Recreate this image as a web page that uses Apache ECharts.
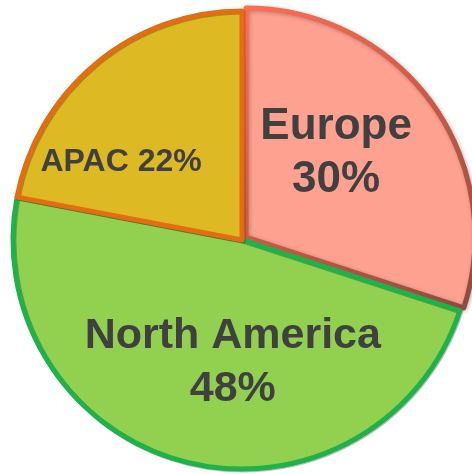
<!DOCTYPE html>
<html>
<head>
<meta charset="utf-8">
<script src="https://cdn.jsdelivr.net/npm/echarts@6/dist/echarts.min.js"></script>
<style>
  html, body { margin: 0; padding: 0; background: #fff; }
  #chart { width: 472px; height: 474px; }
</style>
</head>
<body>
<div id="chart"></div>
<script>
const regions = ['Europe', 'North America', 'APAC'];
const shares = [30, 48, 22];

const fills = ['#FFA191', '#92D050', '#DDB923'];
const borders = [
  new echarts.graphic.LinearGradient(0, 0, 1, 1, [
    { offset: 0, color: '#FF6E52' },
    { offset: 0.5, color: '#C85A46' },
    { offset: 1, color: '#8A4A40' }
  ]),
  '#1FB24A',
  '#E46C12'
];
const labelStyles = [
  { fontSize: 44, formatter: '{b}\n{c}%', lineHeight: 53 },
  { fontSize: 43, formatter: '{b}\n{c}%', lineHeight: 53 },
  { fontSize: 32, formatter: '{b} {c}%', lineHeight: 36 }
];
// nudges of label centres off ECharts' default inside position
const labelShift = [[-5, -15], [20, 9], [-46, 13]];

const chart = echarts.init(document.getElementById('chart'));
chart.setOption({
  backgroundColor: '#fff',
  animation: false,
  series: [{
    type: 'pie',
    center: [242, 240],
    radius: 229,
    startAngle: 90,
    selectedMode: 'single',
    selectedOffset: 5,
    label: {
      show: true,
      position: 'inside',
      color: '#404040',
      fontWeight: 'bold',
      fontFamily: 'Liberation Sans, Arial, sans-serif'
    },
    labelLine: { show: false },
    emphasis: { disabled: true },
    labelLayout: function (p) {
      const s = labelShift[p.dataIndex];
      return { dx: s[0], dy: s[1] };
    },
    data: regions.map(function (name, i) {
      return {
        name: name,
        value: shares[i],
        selected: i === 0,
        itemStyle: {
          color: fills[i],
          borderColor: borders[i],
          borderWidth: 5,
          shadowBlur: i === 0 ? 4 : 0,
          shadowColor: 'rgba(0,0,0,0.25)',
          shadowOffsetX: 1,
          shadowOffsetY: 1
        },
        label: labelStyles[i]
      };
    })
  }]
});
</script>
</body>
</html>
